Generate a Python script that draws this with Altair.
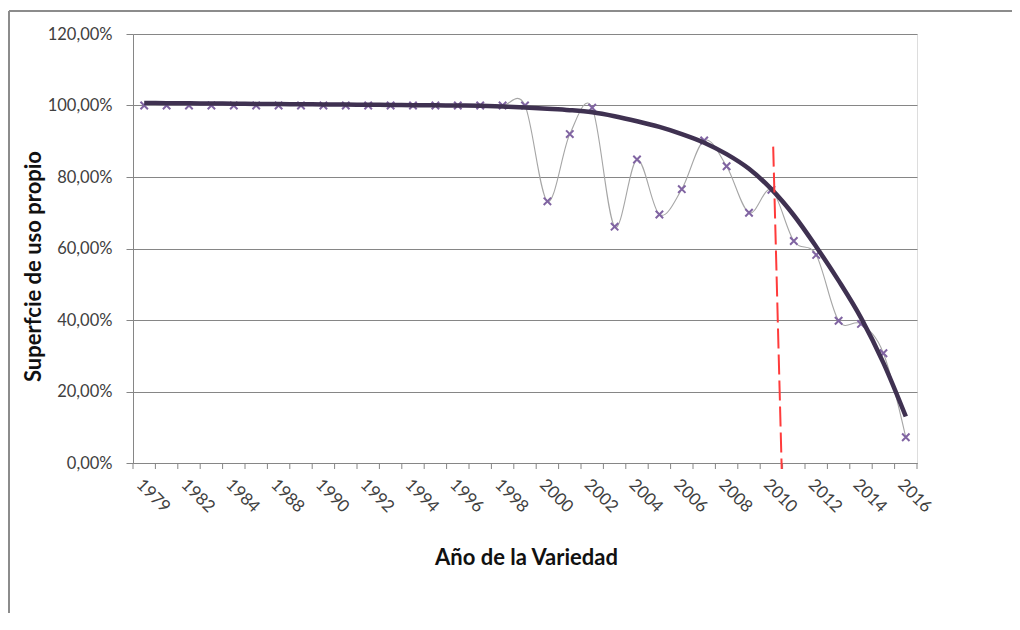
import json
import altair as alt
import pandas as pd

# Category labels (only every second one is shown on the axis)
years = ["1979", "1981", "1982", "1983", "1984", "1986", "1988", "1989", "1990",
         "1991", "1992", "1993", "1994", "1995", "1996", "1997", "1998", "1999",
         "2000", "2001", "2002", "2003", "2004", "2005", "2006", "2007", "2008",
         "2009", "2010", "2011", "2012", "2013", "2014", "2015", "2016"]

# Observed share (%)
values = [100, 100, 100, 100, 100, 100, 100, 100, 100,
          100, 100, 100, 100, 100, 100, 100, 100, 100,
          73.2, 92.0, 99.4, 66.1, 84.9, 69.5, 76.6, 90.2, 83.0,
          70.0, 76.4, 62.1, 58.2, 39.8, 38.9, 30.7, 7.2]

# Trend line (%)
trend = [100.7, 100.65, 100.6, 100.55, 100.5, 100.45, 100.4, 100.35, 100.3,
         100.25, 100.2, 100.15, 100.1, 100.05, 100.0, 99.9, 99.7, 99.45,
         99.1, 98.7, 98.1, 97.0, 95.6, 94.0, 92.0, 89.6, 86.4, 82.3,
         76.6, 69.3, 60.5, 51.0, 40.6, 28.0, 13.0]

# Red dashed reference line (category index, %)
ref_x = [28.08, 28.46]
ref_y = [88.5, -1.7]

y_ticks = [0, 20, 40, 60, 80, 100, 120]

n = len(years)
idx = list(range(n))
df = pd.DataFrame({"i": idx, "year": years, "value": values, "trend": trend})
ref_df = pd.DataFrame({"x": [ref_x[0]], "x2": [ref_x[1]], "y": [ref_y[0]], "y2": [ref_y[1]]})
tick_df = pd.DataFrame({"b": [i - 0.5 for i in range(n + 1)]})

centers = [i for i in range(0, n, 2)]
label_js = json.dumps(years)
label_expr = f"{label_js}[datum.value]"

W, H = 784, 429
GRID = "#868686"
FONT = "Lato"
TXT = "#404040"

x_scale = alt.Scale(domain=[-0.5, n - 0.5], nice=False, zero=False)
y_scale = alt.Scale(domain=[0, 120], nice=False)

x_axis = alt.Axis(
    values=centers,
    labelExpr=label_expr,
    labelAngle=45,
    labelAlign="left",
    labelBaseline="top",
    labelPadding=13,
    labelFont=FONT,
    labelFontSize=17,
    labelColor=TXT,
    labelOverlap=False,
    labelBound=False,
    labelFlush=False,
    ticks=False,
    domainColor=GRID,
    grid=False,
    title="Año de la Variedad",
    titleFont=FONT,
    titleFontSize=22,
    titleFontWeight="bold",
    titleColor="#111111",
    titleY=94,
    titleX=W / 2 + 1,
    titleBaseline="middle",
    titleAlign="center",
)

y_axis = alt.Axis(
    values=y_ticks,
    labelExpr="replace(format(datum.value, '.2f'), '.', ',') + '%'",
    labelFont=FONT,
    labelFontSize=16.5,
    labelColor=TXT,
    labelPadding=14,
    labelOverlap=False,
    tickSize=7,
    tickColor=GRID,
    domainColor=GRID,
    grid=True,
    gridColor=GRID,
    gridWidth=1,
    title="Superfcie de uso propio",
    titleFont=FONT,
    titleFontSize=22,
    titleFontWeight="bold",
    titleColor="#111111",
    titleAngle=-90,
    titleX=-100,
    titleY=232,
    titleBaseline="middle",
    titleAlign="center",
)

base = alt.Chart(df)

line = base.mark_line(color="#a6a6a6", strokeWidth=1.1, interpolate="cardinal").encode(
    x=alt.X("i:Q", scale=x_scale, axis=x_axis),
    y=alt.Y("value:Q", scale=y_scale, axis=y_axis),
)

points = base.mark_point(
    shape="M-1,-1L1,1M-1,1L1,-1",
    filled=False,
    color="#8064a2",
    strokeWidth=2,
    size=55,
    opacity=1,
).encode(x="i:Q", y="value:Q")

trend_line = base.mark_line(color="#3f3151", strokeWidth=4.5, interpolate="monotone").encode(
    x="i:Q", y="trend:Q"
)

ref = alt.Chart(ref_df).mark_rule(
    color="#ff3b3b", strokeWidth=2, strokeDash=[20, 6], clip=False
).encode(x="x:Q", x2="x2:Q", y="y:Q", y2="y2:Q")

# category boundary ticks on the x axis
ticks = alt.Chart(tick_df).mark_rule(color=GRID, strokeWidth=1, clip=False).encode(
    x="b:Q", y=alt.value(H), y2=alt.value(H + 6)
)

# outer frame of the chart image
frame_left = alt.Chart(df).mark_rule(color="#8c8c8c", strokeWidth=2, clip=False).encode(
    x=alt.value(-124), y=alt.value(-23), y2=alt.value(H + 170)
)
frame_top = alt.Chart(df).mark_rule(color="#8c8c8c", strokeWidth=2, clip=False).encode(
    x=alt.value(-124), x2=alt.value(W + 120), y=alt.value(-23)
)

chart = alt.layer(frame_left, frame_top, line, points, trend_line, ticks, ref).properties(
    width=W,
    height=H,
    autosize=alt.AutoSizeParams(type="none"),
    padding={"left": 125, "top": 26, "right": 95, "bottom": 150},
).configure_view(stroke=None).configure(background="white")

chart.save("out.html", embed_options={"renderer": "svg", "actions": False})
